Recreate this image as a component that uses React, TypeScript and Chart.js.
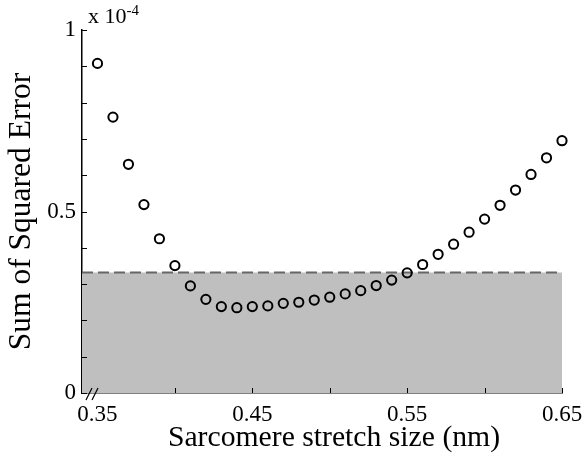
import React, { useEffect, useRef } from 'react';
import { Chart, registerables } from 'chart.js';

Chart.register(...registerables);

// Sarcomere stretch size (nm)
const stretchSizes = [
  0.35, 0.36, 0.37, 0.38, 0.39, 0.40, 0.41, 0.42, 0.43, 0.44, 0.45,
  0.46, 0.47, 0.48, 0.49, 0.50, 0.51, 0.52, 0.53, 0.54, 0.55,
  0.56, 0.57, 0.58, 0.59, 0.60, 0.61, 0.62, 0.63, 0.64, 0.65,
];
// Sum of squared error, in units of 1e-4
const sumSquaredErrorE4 = [
  0.908, 0.760, 0.630, 0.519, 0.425, 0.351, 0.295, 0.258, 0.238, 0.235, 0.238,
  0.240, 0.247, 0.250, 0.256, 0.264, 0.273, 0.282, 0.296, 0.311, 0.331,
  0.354, 0.382, 0.410, 0.443, 0.479, 0.517, 0.559, 0.602, 0.648, 0.695,
];
const thresholdE4 = 0.332;
const xRange = [0.34, 0.65];
const yRange = [0, 1];
const xTickValues = [0.35, 0.40, 0.45, 0.50, 0.55, 0.60, 0.65];
const xTickLabels = ['0.35', '0.45', '0.55', '0.65'];
const yTickLabels = ['0', '0.5', '1'];
const xTitle = 'Sarcomere stretch size (nm)';
const yTitle = 'Sum of Squared Error';

const SERIF = '"Liberation Serif", "Times New Roman", serif';

const decorPlugin = {
  id: 'decor',
  afterDraw(chart: any) {
    const { ctx, chartArea: a, scales } = chart;
    const x = scales.x;
    const y = scales.y;
    ctx.save();
    ctx.strokeStyle = '#000';
    ctx.lineWidth = 1;
    ctx.beginPath();
    y.ticks.forEach((t: any) => {
      const py = Math.round(y.getPixelForValue(t.value)) + 0.5;
      ctx.moveTo(a.left, py);
      ctx.lineTo(a.left + 5, py);
    });
    x.ticks.forEach((t: any) => {
      if (t.value < 0.36) return;
      const px = Math.round(x.getPixelForValue(t.value)) + 0.5;
      ctx.moveTo(px, a.bottom);
      ctx.lineTo(px, a.bottom - 5);
    });
    ctx.stroke();
    // axis break mark
    ctx.beginPath();
    ctx.lineWidth = 1.2;
    [7, 13].forEach((dx) => {
      ctx.moveTo(a.left + dx - 3, a.bottom + 7);
      ctx.lineTo(a.left + dx + 3, a.bottom - 5);
    });
    ctx.stroke();
    // exponent
    ctx.fillStyle = '#000';
    ctx.textBaseline = 'alphabetic';
    ctx.textAlign = 'left';
    ctx.font = `22px ${SERIF}`;
    const base = 'x 10';
    const bx = a.left + 6;
    ctx.fillText(base, bx, 23);
    const w = ctx.measureText(base).width;
    ctx.font = `15px ${SERIF}`;
    ctx.fillText('-4', bx + w, 15);
    // x axis title
    ctx.font = `29.7px ${SERIF}`;
    ctx.textAlign = 'center';
    ctx.fillText(xTitle, (a.left + a.right) / 2 + 12, 446);
    ctx.restore();
  },
};

export default function App() {
  const ref = useRef<HTMLCanvasElement | null>(null);
  useEffect(() => {
    if (!ref.current) return;
    const chart = new Chart(ref.current, {
      type: 'scatter',
      data: {
        datasets: [
          {
            label: 'SSE',
            data: stretchSizes.map((s, i) => ({ x: s, y: sumSquaredErrorE4[i] })),
            showLine: false,
            clip: false,
            pointStyle: 'circle',
            pointRadius: 4.6,
            pointBorderWidth: 2,
            pointBorderColor: '#000',
            pointBackgroundColor: 'rgba(0,0,0,0)',
          },
          {
            label: 'threshold',
            data: xRange.map((v) => ({ x: v, y: thresholdE4 })),
            showLine: true,
            fill: 'origin',
            backgroundColor: '#bfbfbf',
            borderColor: '#666666',
            borderWidth: 2,
            borderDash: [11, 5],
            pointRadius: 0,
          },
        ],
      },
      options: {
        animation: false,
        responsive: false,
        maintainAspectRatio: false,
        layout: { padding: { top: 30, right: 20, left: 0, bottom: 0 } },
        plugins: {
          legend: { display: false },
          tooltip: { enabled: false },
        },
        scales: {
          x: {
            type: 'linear',
            min: xRange[0],
            max: xRange[1],
            afterBuildTicks: (scale: any) => {
              scale.ticks = xTickValues.map((v) => ({ value: v }));
            },
            afterFit: (scale: any) => {
              scale.height = 60;
              scale.paddingLeft = 0;
              scale.paddingRight = 0;
            },
            grid: { display: false, drawTicks: false },
            border: { display: true, color: '#000', width: 1.5 },
            ticks: {
              autoSkip: false,
              maxRotation: 0,
              padding: 8,
              color: '#000',
              font: { family: SERIF, size: 23 },
              callback: (value: any) => {
                const s = Number(value).toFixed(2);
                return xTickLabels.includes(s) ? s : '';
              },
            },
            title: { display: false },
          },
          y: {
            type: 'linear',
            min: yRange[0],
            max: yRange[1],
            afterFit: (scale: any) => {
              scale.width = 82;
              scale.paddingTop = 0;
              scale.paddingBottom = 0;
            },
            grid: { display: false, drawTicks: false },
            border: { display: true, color: '#000', width: 1.5 },
            ticks: {
              stepSize: 0.1,
              autoSkip: false,
              padding: 6,
              color: '#000',
              font: { family: SERIF, size: 23 },
              callback: (value: any) => {
                const v = Math.round(Number(value) * 10) / 10;
                const s = String(v);
                return yTickLabels.includes(s) ? s : '';
              },
            },
            title: {
              display: true,
              text: yTitle,
              color: '#000',
              font: { family: SERIF, size: 31.5, lineHeight: 1 },
              padding: { top: 6, bottom: 0 },
            },
          },
        },
      },
      plugins: [decorPlugin],
    });
    return () => chart.destroy();
  }, []);
  return (
    <div style={{ position: 'fixed', left: 0, top: 0, width: 582, height: 453, background: '#fff' }}>
      <canvas ref={ref} width={582} height={453} />
    </div>
  );
}
